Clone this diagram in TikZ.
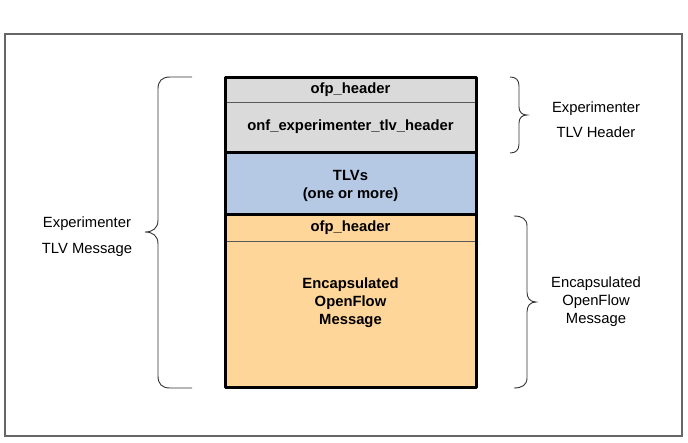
\documentclass[tikz,border=0pt]{standalone}
\usepackage{fontspec}
\setmainfont{Liberation Sans}
\usetikzlibrary{positioning}
\definecolor{hdrgray}{HTML}{DADADA}
\definecolor{tlvblue}{HTML}{B5C8E4}
\definecolor{msgorange}{HTML}{FFD699}

\begin{document}
\begin{tikzpicture}
[ x=1pt, y=-1pt, node distance=0pt
, field/.style={rectangle, minimum width=251pt, inner sep=0pt, outer sep=0pt, font=\fontsize{14.8}{18}\selectfont\bfseries, align=center}
, caption/.style={font=\fontsize{14.8}{18}\selectfont, align=center}
, thinrule/.style={draw=black!65, line width=0.8pt}
, thickrule/.style={draw=black, line width=3pt}
, brace/.style={draw=black!80, line width=0.9pt}
]
\useasboundingbox (0,0) rectangle (688,442);
\draw [draw=black!60, line width=1.2pt] (5,34) rectangle (682,436);
% the stack of fields
\node (hdr) [field, fill=hdrgray, minimum height=25pt] at (350.5,89.5) {ofp\_header};
\node (onf) [field, fill=hdrgray, minimum height=50pt, below=of hdr] {onf\_experimenter\_tlv\_header};
\node (tlvs) [field, fill=tlvblue, minimum height=62pt, below=of onf] {};
\node (tlvtext) [field, minimum width=0pt] at ([yshift=-2.5pt]tlvs.center) {TLVs\\(one or more)};
\node (ofp) [field, fill=msgorange, minimum height=27pt, below=of tlvs] {ofp\_header};
\node (body) [field, fill=msgorange, minimum height=146pt, below=of ofp] {};
\node (bodytext) [field, minimum width=0pt] at ([yshift=11.5pt]body.center) {Encapsulated\\OpenFlow\\Message};
\draw [thinrule] (hdr.south west) -- (hdr.south east);
\draw [thinrule] (ofp.south west) -- (ofp.south east);
\draw [thickrule] (onf.south west) -- (onf.south east);
\draw [thickrule] (tlvs.south west) -- (tlvs.south east);
\draw [thickrule, line join=round] (hdr.north west) rectangle (body.south east);
% braces
\draw [brace] (192,77) -- (170,77) .. controls (162,77) and (158,81) .. (158,89)
  -- (158,220) .. controls (158,228) and (153,232) .. (145,232)
  .. controls (153,232) and (158,236) .. (158,244)
  -- (158,376) .. controls (158,384) and (162,388) .. (170,388) -- (192,388);
\draw [brace] (510,77) .. controls (516,77) and (519,80) .. (519,86)
  -- (519,107) .. controls (519,112) and (522,115) .. (527,115)
  .. controls (522,115) and (519,118) .. (519,123)
  -- (519,144) .. controls (519,150) and (516,153) .. (510,153);
\draw [brace] (514,216) .. controls (522,216) and (527,219) .. (527,226)
  -- (527,292) .. controls (527,298) and (530,302) .. (536,302)
  .. controls (530,302) and (527,306) .. (527,312)
  -- (527,378) .. controls (527,385) and (522,388) .. (514,388);
% labels
\node (msglabel) [caption] at (87,237) {Experimenter\\[8pt]TLV Message};
\node (hdrlabel) [caption] at (596,119.5) {Experimenter\\[7pt]TLV Header};
\node (enclabel) [caption] at (596,301.5) {Encapsulated\\OpenFlow\\Message};
\end{tikzpicture}
\end{document}
